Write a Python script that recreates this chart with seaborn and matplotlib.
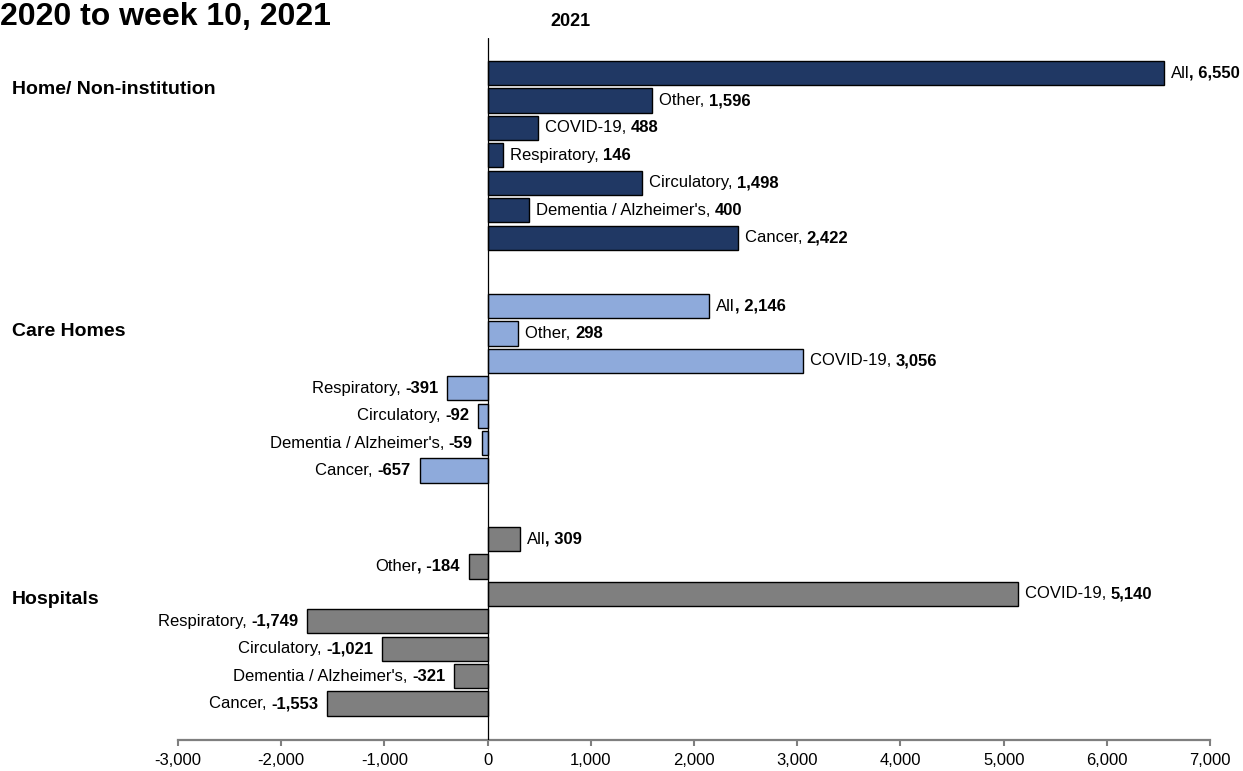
import matplotlib
matplotlib.use("Agg")
import matplotlib.pyplot as plt
import seaborn as sns
import pandas as pd
import numpy as np

sns.set_style("white")
plt.rcParams['font.family'] = ['Liberation Sans', 'DejaVu Sans']
plt.rcParams['text.color'] = 'black'
plt.rcParams['xtick.color'] = 'black'

groups = ["Home/ Non-institution", "Care Homes", "Hospitals"]
causes = ["All", "Other", "COVID-19", "Respiratory", "Circulatory",
          "Dementia / Alzheimer's", "Cancer"]
home_values = [6550, 1596, 488, 146, 1498, 400, 2422]
care_values = [2146, 298, 3056, -391, -92, -59, -657]
hosp_values = [309, -184, 5140, -1749, -1021, -321, -1553]
value_labels = [
    ["6,550", "1,596", "488", "146", "1,498", "400", "2,422"],
    ["2,146", "298", "3,056", "-391", "-92", "-59", "-657"],
    ["309", "-184", "5,140", "-1,749", "-1,021", "-321", "-1,553"],
]
# which labels carry the comma in bold
bold_comma = [
    [True, False, False, False, False, False, False],
    [True, False, False, False, False, False, False],
    [True, True, False, False, False, False, False],
]
colors = ["#203864", "#8EAADB", "#7F7F7F"]
xticks = [-3000, -2000, -1000, 0, 1000, 2000, 3000, 4000, 5000, 6000, 7000]
title = "2020 to week 10, 2021"
subtitle = "2021"

all_values = [home_values, care_values, hosp_values]
rows = []
gap = 8.5
for gi, (g, vals) in enumerate(zip(groups, all_values)):
    for ci, (c, v) in enumerate(zip(causes, vals)):
        rows.append({"group": g, "cause": c, "value": v, "pos": gi * gap + ci,
                     "gi": gi, "ci": ci})
df = pd.DataFrame(rows)

fig = plt.figure(figsize=(12.43, 7.71), dpi=100)
ax = fig.add_axes([0.1432, 0.0402, 0.8303, 0.9105])

sns.barplot(data=df, x="value", y="pos", hue="group", palette=colors,
            orient="h", native_scale=True, dodge=False, width=0.88,
            saturation=1, edgecolor="black", linewidth=1.0, legend=False, ax=ax)

ax.set_xlim(-3000, 7000)
ax.set_ylim(23 + 1.33, -1.28)
ax.set_xticks(xticks)
ax.set_xticklabels([f"{t:,}" for t in xticks], fontsize=12)
ax.set_yticks([])
ax.set_xlabel("")
ax.set_ylabel("")
for s in ["top", "right", "left"]:
    ax.spines[s].set_visible(False)
ax.spines["bottom"].set_color("#7F7F7F")
ax.spines["bottom"].set_linewidth(1.6)
ax.tick_params(axis="x", bottom=True, direction="out", length=4, color="#7F7F7F",
               width=1.5, pad=5, labelcolor="black")
ax.axvline(0, color="black", lw=0.9, zorder=3)

fig.canvas.draw()
renderer = fig.canvas.get_renderer()
inv = ax.transData.inverted()
fs = 12
for _, r in df.iterrows():
    v = r["value"]
    y = r["pos"]
    gi, ci = r["gi"], r["ci"]
    vlab = value_labels[gi][ci]
    if bold_comma[gi][ci]:
        name_txt = r["cause"]
        val_txt = ", " + vlab
    else:
        name_txt = r["cause"] + ", "
        val_txt = vlab
    xd, yd = ax.transData.transform((v, y))
    if v >= 0:
        x0 = xd + 7
        t1 = ax.text(*inv.transform((x0, yd)), name_txt, ha="left", va="center",
                     fontsize=fs)
        w = t1.get_window_extent(renderer).width
        ax.text(*inv.transform((x0 + w, yd)), val_txt, ha="left", va="center",
                fontsize=fs, fontweight="bold")
    else:
        x0 = xd - 9
        t2 = ax.text(*inv.transform((x0, yd)), val_txt, ha="right", va="center",
                     fontsize=fs, fontweight="bold")
        w = t2.get_window_extent(renderer).width
        ax.text(*inv.transform((x0 - w, yd)), name_txt, ha="right", va="center",
                fontsize=fs)

# group labels
group_y_px = [89, 331, 600]
for g, ypx in zip(groups, group_y_px):
    fig.text(12 / 1243, 1 - ypx / 771, g, ha="left", va="center",
             fontsize=14, fontweight="bold")

fig.text(0.0, 1 - 25 / 771, title, ha="left", va="baseline", fontsize=23,
         fontweight="bold")
fig.text(570 / 1243, 1 - 22 / 771, subtitle, ha="center", va="center",
         fontsize=13, fontweight="bold")

fig.savefig("out.png", dpi=100)
